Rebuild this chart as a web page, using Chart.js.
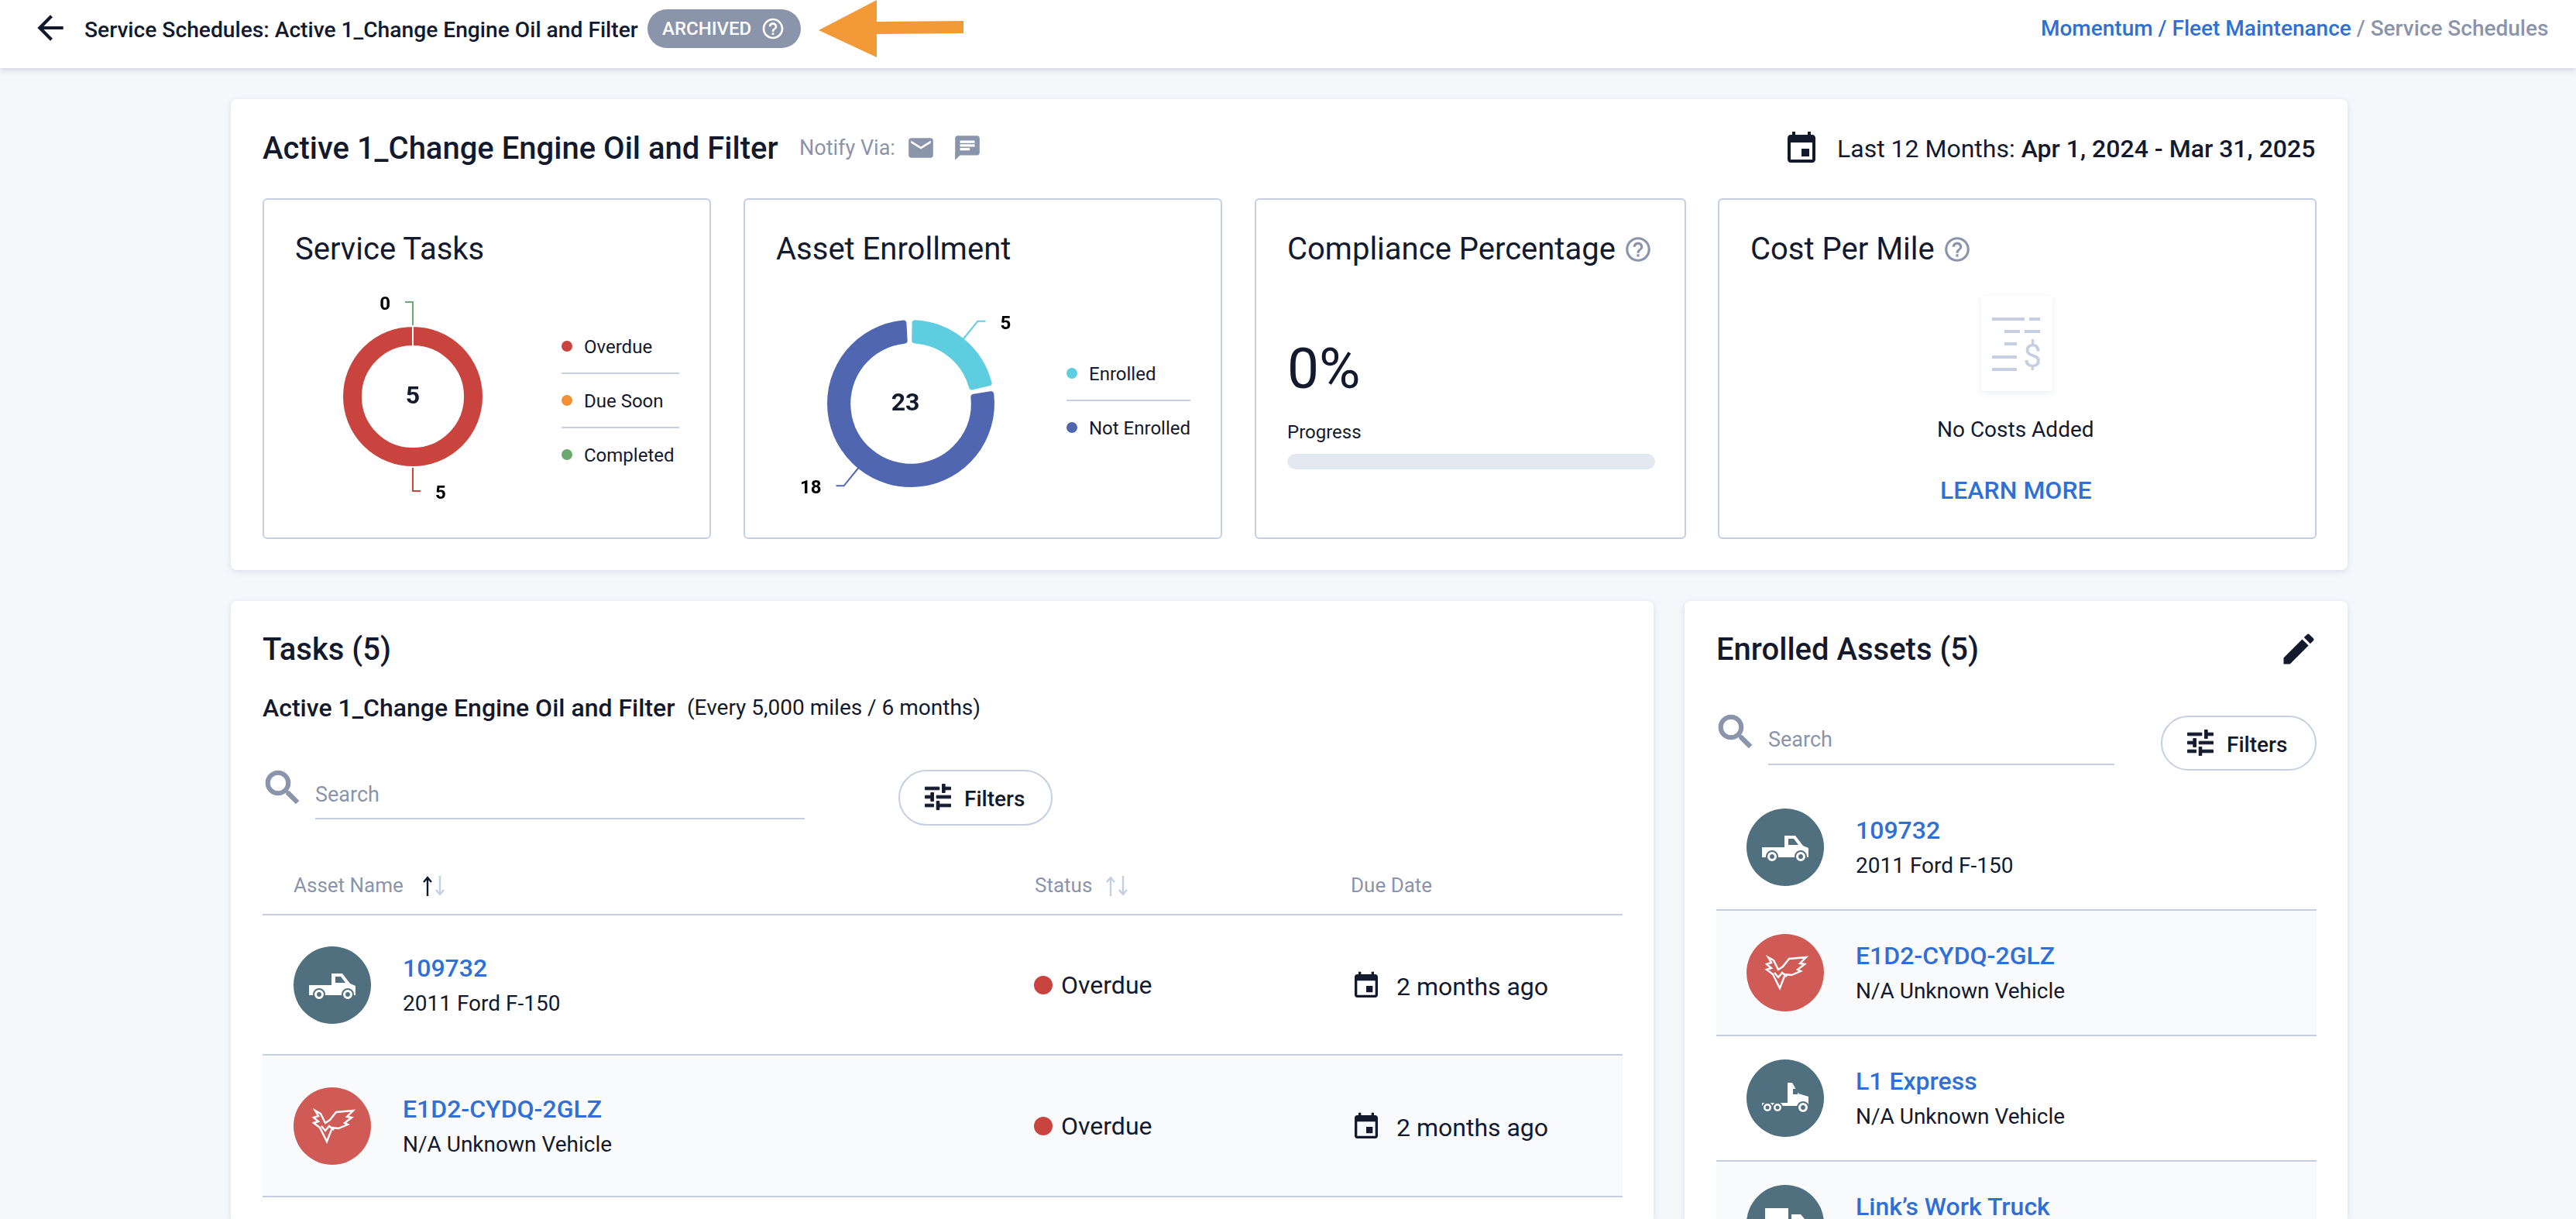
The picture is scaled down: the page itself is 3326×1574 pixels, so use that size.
<!DOCTYPE html>
<html>
<head>
<meta charset="utf-8">
<title>Service Schedules</title>
<script src="https://cdn.jsdelivr.net/npm/chart.js@4"></script>
<style>
html, body { margin: 0; background: #f5f7fb; }
#page { position: relative; width: 3326px; height: 1574px; overflow: hidden; font-family: Roboto, sans-serif; color: #141a2e; }
#page > * { position: absolute; box-sizing: border-box; }
.t { white-space: nowrap; line-height: 1.2; transform: translateY(-50%); }
.card { background: #fff; border-radius: 8px; box-shadow: 0 2px 8px rgba(60,70,110,.14); }
.box { background: #fff; border: 2px solid #c6cfe2; border-radius: 6px; }
.rule { background: #c6cfe2; height: 2px; }
.pill { background: #fff; border: 2px solid #c6cfe2; border-radius: 36px; }
</style>
</head>
<body>
<div id="page"></div>
<script>
const taskLabels = ["Overdue", "Due Soon", "Completed"];
const taskValues = [5, 0, 0];
const taskColors = ["#c9443e", "#f29035", "#6aa96f"];
const taskLeaders = [true, false, true];
const enrollLabels = ["Enrolled", "Not Enrolled"];
const enrollValues = [5, 18];
const enrollColors = ["#5fcde0", "#5066b1"];
const enrollLeaders = [true, true];
const taskRows = [["109732", "2011 Ford F-150", "pickup"], ["E1D2-CYDQ-2GLZ", "N/A Unknown Vehicle", "eagle"]];
const assetRows = [["109732", "2011 Ford F-150", "pickup"], ["E1D2-CYDQ-2GLZ", "N/A Unknown Vehicle", "eagle"], ["L1 Express", "N/A Unknown Vehicle", "semi"], ["Link's Work Truck", "", "box"]];

const BLUE = "#2f6fd6", GRAY = "#8a94ab", LIGHT = "#c6cfe2", DARK = "#141a2e";
const ICONS = {
  back: "M20 11H7.83l5.59-5.59L12 4l-8 8 8 8 1.41-1.41L7.83 13H20v-2z",
  mail: "M20 4H4c-1.1 0-1.99.9-1.99 2L2 18c0 1.1.9 2 2 2h16c1.1 0 2-.9 2-2V6c0-1.1-.9-2-2-2zm0 4l-8 5-8-5V6l8 5 8-5v2z",
  chat: "M20 2H4c-1.1 0-1.99.9-1.99 2L2 22l4-4h14c1.1 0 2-.9 2-2V4c0-1.1-.9-2-2-2zM6 9h12v2H6V9zm8 5H6v-2h8v2zm4-6H6V6h12v2z",
  cal: "M17 12h-5v5h5v-5zM16 1v2H8V1H6v2H5c-1.11 0-1.99.9-1.99 2L3 19c0 1.1.89 2 2 2h14c1.1 0 2-.9 2-2V5c0-1.1-.9-2-2-2h-1V1h-2zm3 18H5V8h14v11z",
  help: "M11 18h2v-2h-2v2zm1-16C6.48 2 2 6.48 2 12s4.48 10 10 10 10-4.48 10-10S17.52 2 12 2zm0 18c-4.41 0-8-3.59-8-8s3.59-8 8-8 8 3.59 8 8-3.59 8-8 8zm0-14c-2.21 0-4 1.79-4 4h2c0-1.1.9-2 2-2s2 .9 2 2c0 2-3 1.75-3 5h2c0-2.25 3-2.5 3-5 0-2.21-1.79-4-4-4z",
  tune: "M3 17v2h6v-2H3zM3 5v2h10V5H3zm10 16v-2h8v-2h-8v-2h-2v6h2zM7 9v2H3v2h4v2h2V9H7zm14 4v-2H11v2h10zm-6-4h2V7h4V5h-4V3h-2v6z",
  edit: "M3 17.25V21h3.75L17.81 9.94l-3.75-3.75L3 17.25zM20.71 7.04c.39-.39.39-1.02 0-1.41l-2.34-2.34c-.39-.39-1.02-.39-1.41 0l-1.83 1.83 3.75 3.75 1.83-1.83z",
  search: "M15.5 14h-.79l-.28-.27C15.41 12.59 16 11.11 16 9.5 16 5.91 13.09 3 9.5 3S3 5.91 3 9.5 5.91 16 9.5 16c1.61 0 3.09-.59 4.23-1.57l.27.28v.79l5 4.99L20.49 19l-4.99-5zm-6 0C7.01 14 5 11.99 5 9.5S7.01 5 9.5 5 14 7.01 14 9.5 11.99 14 9.5 14z"
};
const wheel = (x, y, r) => `<circle cx="${x}" cy="${y}" r="${r}" fill="#fff" stroke="#50707f" stroke-width="2"/><circle cx="${x}" cy="${y}" r="${r / 2.4}" fill="#50707f"/>`;
const VEHICLES = {
  pickup: '<path fill="#fff" d="M20 50h29V35h14l10 13 7 3v12H20z"/><path fill="#50707f" d="M54 39h7l6 8H54z"/>' + wheel(33, 62, 7) + wheel(70, 62, 7),
  semi: '<path fill="#fff" d="M20 56h33V30h6l8 14 13 4v12H20z"/><rect x="60" y="38" width="6" height="7" fill="#50707f"/>' + wheel(27, 62, 6) + wheel(40, 62, 6) + wheel(73, 62, 7),
  box: '<path fill="#fff" d="M24 30h30v32H24zM58 38h12l10 12v12H58z"/>',
  eagle: '<path fill="none" stroke="#fff" stroke-width="2.4" d="M28 30l7 4 6 12 6-4 8-10 22-2-8 8 6 1-9 7 4 2-12 5-8-1-7 18-9-18-8-6 6-2-6-5 6-2z M36 50l5 6 5-6 6 5"/>'
};

const page = document.getElementById("page");
function add(html) {
  page.insertAdjacentHTML("beforeend", html);
}
function text(x, y, str, size, weight, color, extra) {
  add(`<div class="t" style="left:${x}px;top:${y}px;font-size:${size}px;font-weight:${weight};color:${color};${extra || ""}">${str}</div>`);
}
function block(x, y, w, h, cls, extra) {
  add(`<div class="${cls}" style="left:${x}px;top:${y}px;width:${w}px;height:${h}px;${extra || ""}"></div>`);
}
function icon(name, x, y, size, color, heavy) {
  add(`<svg style="left:${x}px;top:${y}px" width="${size}" height="${size}" viewBox="0 0 24 24"><path fill="${color}" stroke="${heavy ? color : "none"}" stroke-width="${heavy || 0}" d="${ICONS[name]}"/></svg>`);
}
function avatar(kind, x, cy) {
  const bg = kind === "eagle" ? "#d05b56" : "#50707f";
  add(`<svg style="left:${x}px;top:${cy - 50}px" width="100" height="100" viewBox="0 0 100 100"><circle cx="50" cy="50" r="50" fill="${bg}"/>${VEHICLES[kind]}</svg>`);
}
function filters(x, y, w, h) {
  block(x, y, w, h, "pill");
  icon("tune", x + 29, y + 13, 44, DARK, 0.5);
  text(x + 85, y + h / 2 + 2, "Filters", 28, 500, DARK);
}
function searchBox(iconX, iconY, x, y, lineEnd, lineY) {
  icon("search", iconX, iconY, 58, GRAY, 0.5);
  text(x, y, "Search", 27, 400, GRAY);
  block(x, lineY, lineEnd - x, 2, "rule");
}
function sortArrow(x, up, color) {
  const d = up ? "M7 27V3M2 9l5-6 5 6" : "M7 1v24M2 19l5 6 5-6";
  add(`<svg style="left:${x - 7}px;top:1130px" width="14" height="28"><path fill="none" stroke="${color}" stroke-width="2.4" d="${d}"/></svg>`);
}
function legend(labels, colors, dotX, textX, firstY, ruleX, ruleW) {
  labels.forEach((lab, i) => {
    const y = firstY + i * 70;
    block(dotX - 7, y - 7, 14, 14, "", `background:${colors[i]};border-radius:50%`);
    text(textX, y + 1, lab, 24, 400, DARK);
    if (i < labels.length - 1) block(ruleX, y + 34, ruleW, 2, "rule");
  });
}

// header bar
block(0, 0, 3326, 88, "", "background:#fff;box-shadow:0 2px 8px rgba(60,70,110,.22)");
icon("back", 40, 11, 50, DARK);
text(109, 39, "Service Schedules: Active 1_Change Engine Oil and Filter", 28.2, 500, DARK);
block(836, 12, 198, 50, "", "background:#8a94ab;border-radius:25px");
text(855, 37, "ARCHIVED", 24, 500, "#fff");
icon("help", 982, 21, 32, "#fff");
add('<svg style="left:1050px;top:0" width="200" height="80"><path fill="#f29a38" d="M7 39L82 0V28L194 27V43L82 44V74z"/></svg>');
text(2635, 37, `<span style="color:${BLUE}">Momentum / Fleet Maintenance</span> / Service Schedules`, 28, 500, GRAY);

// summary card
block(298, 128, 2733, 608, "card");
text(339, 192, "Active 1_Change Engine Oil and Filter", 40, 500, DARK);
text(1032, 191, "Notify Via:", 27, 400, GRAY);
icon("mail", 1170, 172, 38, GRAY);
icon("chat", 1230, 172, 38, GRAY);
icon("cal", 2302, 168, 48, DARK);
text(2372, 192, 'Last 12 Months: <span style="font-weight:500">Apr 1, 2024 - Mar 31, 2025</span>', 32, 400, DARK);

block(339, 256, 579, 440, "box");
block(960, 256, 618, 440, "box");
block(1620, 256, 557, 440, "box");
block(2218, 256, 773, 440, "box");
text(381, 322, "Service Tasks", 40, 400, DARK);
text(1002, 322, "Asset Enrollment", 40, 400, DARK);
text(1662, 322, "Compliance Percentage", 40, 400, DARK);
icon("help", 2096, 303, 38, GRAY);
text(2260, 322, "Cost Per Mile", 40, 400, DARK);
icon("help", 2508, 303, 38, GRAY);

// compliance
text(1662, 477, "0%", 73, 400, DARK);
text(1662, 558, "Progress", 24, 400, DARK);
block(1662, 586, 475, 20, "", "background:#e4e8f1;border-radius:10px");

// cost per mile
add(`<svg style="left:2548px;top:372px" width="112" height="144" viewBox="0 0 112 144">
<defs><filter id="s"><feDropShadow dx="0" dy="2" stdDeviation="4" flood-color="#8a94ab" flood-opacity=".18"/></filter></defs>
<rect x="10" y="10" width="92" height="123" fill="#fff" filter="url(#s)"/>
<g fill="${LIGHT}"><rect x="24" y="38" width="42" height="4"/><rect x="72" y="38" width="14" height="4"/>
<rect x="40" y="54" width="20" height="4"/><rect x="66" y="54" width="20" height="4"/><rect x="40" y="70" width="16" height="4"/>
<rect x="24" y="87" width="32" height="4"/><rect x="24" y="103" width="32" height="4"/></g>
<text x="76" y="102" text-anchor="middle" font-family="Roboto" font-size="42" fill="${LIGHT}">$</text></svg>`);
text(2501, 555, "No Costs Added", 28, 400, DARK);
text(2505, 633, "LEARN MORE", 32, 500, BLUE);

// tasks card
block(298, 776, 1837, 798, "card", "border-radius:8px 8px 0 0");
text(339, 839, "Tasks (5)", 40, 500, DARK);
text(339, 914, "Active 1_Change Engine Oil and Filter", 32, 500, DARK);
text(887, 914, "(Every 5,000 miles / 6 months)", 28, 400, DARK);
searchBox(336, 988, 407, 1026, 1039, 1056);
filters(1160, 994, 199, 72);
text(379, 1144, "Asset Name", 26, 400, GRAY);
sortArrow(552, true, DARK);
sortArrow(568, false, LIGHT);
text(1336, 1144, "Status", 26, 400, GRAY);
sortArrow(1434, true, LIGHT);
sortArrow(1450, false, LIGHT);
text(1744, 1144, "Due Date", 26, 400, GRAY);
block(339, 1180, 1756, 2, "rule");
block(339, 1363, 1756, 181, "", "background:#f9fafc");
block(339, 1361, 1756, 2, "rule");
block(339, 1544, 1756, 2, "rule");
taskRows.forEach((row, i) => {
  const y = 1272 + i * 182;
  avatar(row[2], 379, y);
  text(520, y - 22, row[0], 32, 500, BLUE);
  text(520, y + 24, row[1], 28, 400, DARK);
  block(1335, y - 12, 24, 24, "", `background:${taskColors[0]};border-radius:50%`);
  text(1370, y, taskLabels[0], 32, 400, DARK);
  icon("cal", 1744, y - 19, 40, DARK);
  text(1803, y + 2, "2 months ago", 32, 400, DARK);
});

// enrolled assets card
block(2175, 776, 856, 798, "card", "border-radius:8px 8px 0 0");
text(2216, 839, "Enrolled Assets (5)", 40, 500, DARK);
icon("edit", 2942, 812, 52, DARK);
searchBox(2212, 916, 2283, 955, 2730, 986);
filters(2790, 924, 201, 71);
block(2216, 1175, 775, 162, "", "background:#f9fafc");
block(2216, 1499, 775, 75, "", "background:#f9fafc");
[1174, 1336, 1498].forEach(y => block(2216, y, 775, 2, "rule"));
assetRows.forEach((row, i) => {
  const y = 1094 + i * 162;
  avatar(row[2], 2255, y);
  text(2396, y - 22, row[0].replace("'", "’"), 32, 500, BLUE);
  if (row[1]) text(2396, y + 24, row[1], 28, 400, DARK);
});

legend(taskLabels, taskColors, 732, 754, 447, 725, 152);
legend(enrollLabels, enrollColors, 1384, 1406, 482, 1377, 160);

// ring charts
const ringLabels = {
  id: "ringLabels",
  afterDatasetsDraw(chart, args, opts) {
    const { ctx } = chart;
    const arcs = chart.getDatasetMeta(0).data;
    arcs.forEach((arc, i) => {
      if (!opts.leaders[i]) return;
      const mid = (arc.startAngle + arc.endAngle) / 2;
      const sx = arc.x + (arc.outerRadius + 1) * Math.cos(mid);
      const sy = arc.y + (arc.outerRadius + 1) * Math.sin(mid);
      const ex = arc.x + (arc.outerRadius + 31) * Math.cos(mid);
      const ey = arc.y + (arc.outerRadius + 31) * Math.sin(mid);
      const side = Math.cos(mid) >= 0 ? 1 : -1;
      ctx.save();
      ctx.strokeStyle = opts.colors[i];
      ctx.lineWidth = 2;
      ctx.beginPath();
      ctx.moveTo(sx, sy);
      ctx.lineTo(ex, ey);
      ctx.lineTo(ex + side * 10, ey);
      ctx.stroke();
      ctx.fillStyle = "#000";
      ctx.font = "700 24px Roboto";
      ctx.textAlign = side > 0 ? "left" : "right";
      ctx.textBaseline = "middle";
      ctx.fillText(chart.data.datasets[0].data[i], ex + side * 29, ey + 4);
      ctx.restore();
    });
    ctx.save();
    ctx.fillStyle = DARK;
    ctx.font = "700 32px Roboto";
    ctx.textAlign = "center";
    ctx.textBaseline = "middle";
    ctx.fillText(opts.total, arcs[0].x + opts.shift, arcs[0].y + 1);
    ctx.restore();
  }
};

function ring(x, y, size, pad, labels, values, colors, leaders, shift, dataset) {
  add(`<canvas id="c${x}" width="${size}" height="${size}" style="left:${x}px;top:${y}px;width:${size}px;height:${size}px"></canvas>`);
  new Chart(document.getElementById("c" + x), {
    type: "doughnut",
    data: { labels, datasets: [Object.assign({ data: values, backgroundColor: colors }, dataset)] },
    plugins: [ringLabels],
    options: {
      responsive: false,
      animation: false,
      cutout: "71.5%",
      layout: { padding: pad },
      plugins: {
        legend: { display: false },
        tooltip: { enabled: false },
        ringLabels: { leaders, colors, total: values.reduce((a, b) => a + b, 0), shift }
      }
    }
  });
}
ring(383, 362, 300, 58, taskLabels, taskValues, taskColors, taskLeaders, 0, { borderWidth: 2, borderColor: "#fff" });
ring(996, 341, 360, 72, enrollLabels, enrollValues, enrollColors, enrollLeaders, -7, { borderWidth: 0, spacing: 4, borderRadius: 4 });
</script>
</body>
</html>
